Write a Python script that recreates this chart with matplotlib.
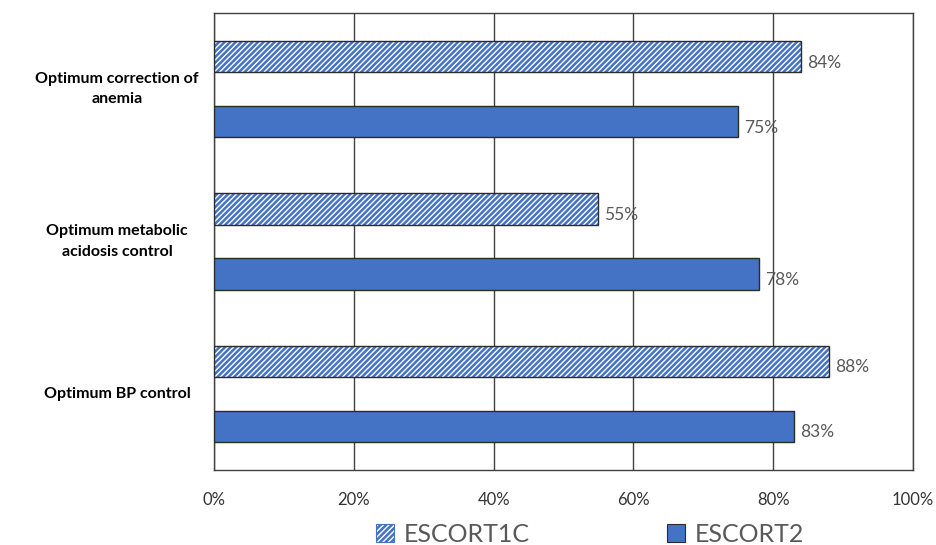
import matplotlib.pyplot as plt
from matplotlib.patches import Patch
from matplotlib.transforms import blended_transform_factory

plt.rcParams['font.family'] = ['Lato', 'DejaVu Sans']
plt.rcParams['hatch.linewidth'] = 1.8

kategoriat = ["Optimum correction of\nanemia",
              "Optimum metabolic\nacidosis control",
              "Optimum BP control"]
escort1c = [84, 55, 88]
escort2 = [75, 78, 83]
xtikit = [0, 20, 40, 60, 80, 100]

sininen = "#4472C4"
reuna = "#2b2b2b"
harmaa = "#595959"

fig = plt.figure(figsize=(9.37, 5.45), dpi=100)
ax = fig.add_axes([0.2284, 0.1376, 0.746, 0.8385])

y = list(range(len(kategoriat)))
korkeus = 0.205
siirto = 0.213
y1 = [i - siirto for i in y]
y2 = [i + siirto for i in y]

# raidallinen sarja: raidat ja reunat erikseen
ax.barh(y1, escort1c, height=korkeus, color="white", edgecolor=sininen,
        hatch="//////", linewidth=0, zorder=3)
ax.barh(y1, escort1c, height=korkeus, fill=False, edgecolor=reuna,
        linewidth=1.0, zorder=4)
ax.barh(y2, escort2, height=korkeus, color=sininen, edgecolor=reuna,
        linewidth=1.0, zorder=3)

for yy, v in zip(y1, escort1c):
    ax.text(v + 0.8, yy + 0.04, f"{v}%", va="center", ha="left",
            fontsize=12.5, color=harmaa)
for yy, v in zip(y2, escort2):
    ax.text(v + 0.8, yy + 0.04, f"{v}%", va="center", ha="left",
            fontsize=12.5, color=harmaa)

ax.set_xlim(0, 100)
ax.set_ylim(2.5, -0.5)
ax.set_xticks(xtikit)
ax.set_xticklabels([f"{t}%" for t in xtikit], fontsize=12, color="#333333")
ax.tick_params(axis="x", length=0, pad=16)
ax.set_yticks([])
ax.grid(axis="x", color="#404040", linewidth=1.0, zorder=0)
for s in ax.spines.values():
    s.set_color("#404040")
    s.set_linewidth(1.0)

tr = blended_transform_factory(fig.transFigure, ax.transData)
for i, k in enumerate(kategoriat):
    ax.text(117 / 937, i, k, transform=tr, ha="center", va="center",
            fontsize=11.5, fontweight="bold", color="black", linespacing=1.55)

kahvat = [Patch(facecolor="white", edgecolor=sininen, hatch="//////", linewidth=0.8),
          Patch(facecolor=sininen, edgecolor=reuna, linewidth=0.8)]
fig.legend(kahvat, ["ESCORT1C", "ESCORT2"], loc="center", ncol=2,
           bbox_to_anchor=(0.63, 0.02), frameon=False, fontsize=18,
           labelcolor=harmaa, columnspacing=5.5, handlelength=0.7,
           handleheight=0.7, handletextpad=0.4)

fig.savefig("out.png", dpi=100)
